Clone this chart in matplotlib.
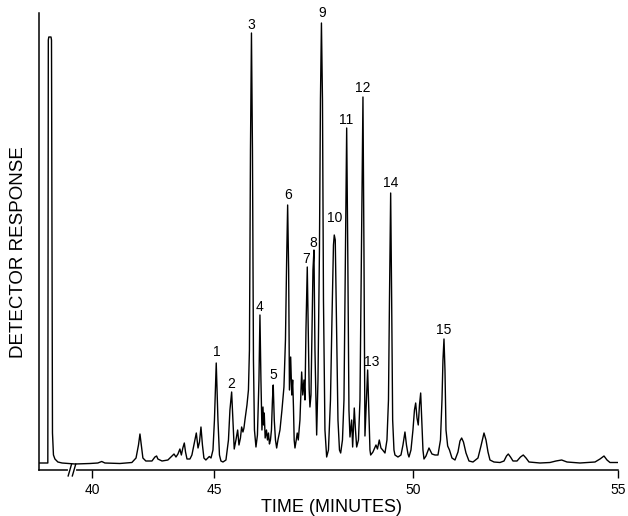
import numpy as np
import matplotlib
matplotlib.use("Agg")
import matplotlib.pyplot as plt

# ---------------- data ----------------
time_min = [
    37.84, 38.20, 38.22, 38.24, 38.33, 38.35, 38.39, 38.43, 38.49, 38.61, 38.78,
    39.31, 39.92, 40.24, 40.40, 40.53, 41.14, 41.63, 41.80, 41.90, 41.96, 42.02,
    42.08, 42.20, 42.45, 42.57, 42.64, 42.69, 42.86, 43.10, 43.27, 43.35, 43.43,
    43.51, 43.59, 43.65, 43.71, 43.77, 43.82, 43.88, 44.00, 44.08, 44.16, 44.26,
    44.33, 44.39, 44.45, 44.51, 44.57, 44.65, 44.73, 44.79, 44.86, 44.94, 45.00,
    45.045, 45.088, 45.126, 45.163, 45.214, 45.289, 45.352, 45.389, 45.432, 45.465,
    45.497, 45.540, 45.583, 45.616, 45.653, 45.683, 45.716, 45.741, 45.766, 45.817,
    45.854, 45.879, 45.905, 45.930, 45.955, 45.980, 46.005, 46.043, 46.080, 46.118,
    46.143, 46.168, 46.193, 46.219, 46.236, 46.251, 46.274, 46.307, 46.332, 46.357,
    46.382, 46.407, 46.432, 46.457, 46.477, 46.503, 46.533, 46.563, 46.595, 46.646,
    46.696, 46.746, 46.784, 46.814, 46.839, 46.864, 46.884, 46.915, 46.942, 46.965,
    46.985, 47.003, 47.023, 47.055, 47.080, 47.106, 47.136, 47.148, 47.191, 47.219,
    47.249, 47.274, 47.299, 47.332, 47.357, 47.380, 47.399, 47.425, 47.450, 47.475,
    47.500, 47.525, 47.568, 47.601, 47.638, 47.663, 47.688, 47.714, 47.739, 47.776,
    47.819, 47.864, 47.915, 47.952, 47.990, 48.010, 48.035, 48.065, 48.103, 48.141,
    48.171, 48.216, 48.254, 48.291, 48.322, 48.349, 48.379, 48.405, 48.447, 48.472,
    48.513, 48.543, 48.573, 48.618, 48.656, 48.693, 48.731, 48.756, 48.781, 48.819,
    48.849, 48.877, 48.907, 48.925, 48.982, 49.058, 49.095, 49.141, 49.183, 49.226,
    49.284, 49.334, 49.372, 49.397, 49.427, 49.452, 49.477, 49.510, 49.535, 49.610,
    49.686, 49.736, 49.786, 49.824, 49.862, 49.887, 49.937, 49.987, 50.024, 50.054,
    50.086, 50.117, 50.147, 50.176, 50.203, 50.232, 50.257, 50.306, 50.379, 50.452,
    50.526, 50.599, 50.660, 50.697, 50.721, 50.746, 50.770, 50.795, 50.836, 50.880,
    50.941, 51.015, 51.088, 51.137, 51.178, 51.222, 51.284, 51.357, 51.455, 51.577,
    51.650, 51.724, 51.773, 51.822, 51.870, 51.968, 52.115, 52.213, 52.274, 52.318,
    52.372, 52.433, 52.531, 52.616, 52.684, 52.751, 52.824, 53.093, 53.337, 53.484,
    53.623, 53.753, 54.071, 54.438, 54.560, 54.658, 54.731, 54.804, 55.00,
]
response = [
    0, 0, 423, 426, 426, 423, 30, 8, 4, 1, 0,
    -1, -0.5, 0, 1.5, 0, -0.5, 0.5, 5, 18, 29, 17,
    5, 2, 2, 6, 7, 4, 2, 3, 7, 9, 6,
    9, 14, 8, 15, 20, 11, 4, 4, 8, 18, 30,
    15, 21, 36, 18, 5, 3, 5, 6.5, 5, 13, 43,
    100, 43, 8, 2, 1, 3, 23, 53, 71, 43,
    14, 23, 33, 18, 25, 36, 31, 35, 43, 58,
    73, 113, 313, 430, 313, 103, 33, 16, 28, 83,
    148, 83, 33, 56, 38, 50, 25, 33, 23, 30,
    19, 23, 33, 63, 78, 43, 23, 15, 23, 33,
    53, 76, 123, 203, 258, 193, 73, 106, 68, 83,
    56, 23, 15, 23, 30, 23, 38, 43, 91, 68,
    83, 63, 133, 196, 133, 73, 56, 68, 133, 193,
    213, 113, 28, 83, 213, 363, 440, 363, 163, 33,
    6, 13, 63, 143, 218, 228, 223, 143, 43, 13,
    10, 23, 63, 213, 335, 213, 53, 26, 43, 16,
    55, 33, 16, 23, 63, 213, 366, 213, 27, 63,
    93, 53, 13, 8, 11, 18, 14, 23, 15, 13,
    10, 23, 63, 163, 270, 163, 43, 13, 8, 6,
    8, 18, 31, 18, 9, 6, 13, 33, 53, 60,
    45, 38, 58, 70, 43, 13, 4, 7, 15, 9,
    8, 8, 23, 63, 103, 124, 93, 33, 17, 13,
    5, 3, 11, 22, 25, 21, 10, 2, 1, 5,
    17, 30, 23, 11, 3, 1, 0.5, 2, 7, 9,
    6, 2, 2, 6, 8, 5, 1, 0, 0.5, 2,
    3, 1, 0, 1, 4, 7, 3, 0.5, 0.5,
]

peak_labels = [str(i) for i in range(1, 16)]
label_time = [45.050, 45.432, 45.935, 46.143, 46.470, 46.839, 47.291, 47.482,
              47.714, 48.028, 48.304, 48.724, 48.957, 49.427, 50.746]
label_resp = [111, 79, 438, 156, 88, 268, 204, 220, 450, 245, 343, 375, 101, 280, 133]

tick_values = [40, 45, 50, 55]
tick_labels = ["40", "45", "50", "55"]
# printed (unevenly spaced) positions of the time ticks on the original axis
tick_spacing = [0.0, 122.5, 321.5, 526.0]

# ---------------- piecewise-linear time scale ----------------
kt = np.array(tick_values, dtype=float)
kp = np.array(tick_spacing, dtype=float)
s0 = (kp[1] - kp[0]) / (kt[1] - kt[0])
s1 = (kp[-1] - kp[-2]) / (kt[-1] - kt[-2])
kt_ext = np.concatenate([[kt[0] - 20], kt, [kt[-1] + 20]])
kp_ext = np.concatenate([[kp[0] - 20 * s0], kp, [kp[-1] + 20 * s1]])

def fwd(t):
    return np.interp(t, kt_ext, kp_ext)

def inv(p):
    return np.interp(p, kp_ext, kt_ext)

# ---------------- figure ----------------
plt.rcParams['font.family'] = ['Liberation Sans', 'DejaVu Sans']
fig = plt.figure(figsize=(6.28, 5.16), dpi=100)
W, H = 628, 516
ax = fig.add_axes([39 / W, 1 - 470 / H, (618 - 39) / W, (470 - 13) / H])
ax.set_xscale('function', functions=(fwd, inv))

ax.plot(time_min, response, color='black', lw=1.0, solid_joinstyle='round')

ax.set_xlim(37.84, 55.0)
ax.set_ylim(-7, 450)

for side in ('top', 'right'):
    ax.spines[side].set_visible(False)
for side in ('left', 'bottom'):
    ax.spines[side].set_linewidth(1.1)

ax.set_xticks(tick_values)
ax.set_xticklabels(tick_labels)
ax.xaxis.set_minor_locator(matplotlib.ticker.NullLocator())
ax.tick_params(axis='x', direction='out', length=6, width=1.0, pad=3.5,
               labelsize=10)
ax.set_yticks([])

# axis break mark "//"
xt = ax.get_xaxis_transform()
ax.plot([39.10, 39.27], [0, 0], color='white', lw=3, transform=xt,
        clip_on=False, zorder=5)
for xb in (39.10, 39.27):
    ax.plot([xb - 0.07, xb + 0.07], [-0.013, 0.013], color='black', lw=1.0,
            transform=xt, clip_on=False, zorder=6)

for lab, t, r in zip(peak_labels, label_time, label_resp):
    ax.text(t, r, lab, ha='center', va='center', fontsize=10, clip_on=False)

fig.text(331 / W, 1 - 508 / H, "TIME (MINUTES)", ha='center', va='center',
         fontsize=13)
fig.text(19 / W, 1 - 252 / H, "DETECTOR RESPONSE", ha='center', va='center',
         rotation=90, fontsize=13.5)

fig.savefig("out.png", dpi=100)
